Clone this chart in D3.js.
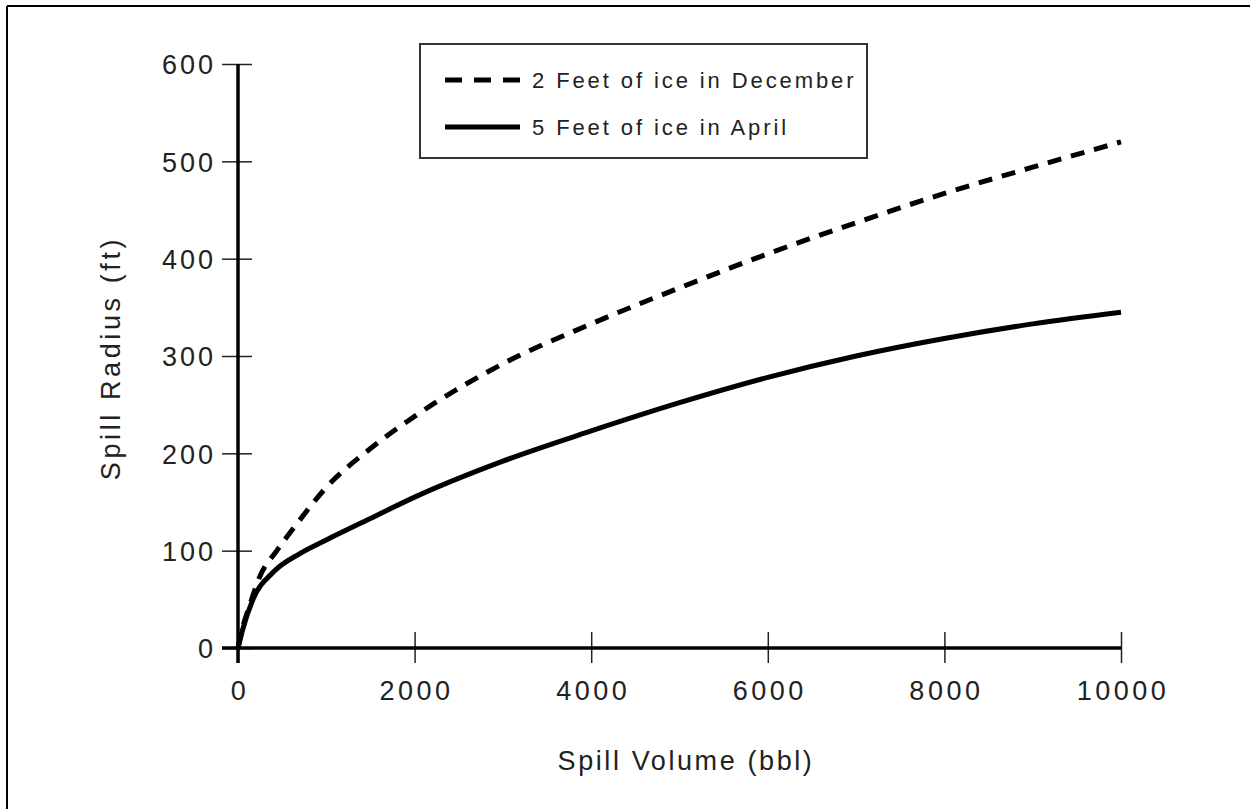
<!DOCTYPE html>
<html>
<head>
<meta charset="utf-8">
<script src="https://cdn.jsdelivr.net/npm/d3@7"></script>
<style>
  html, body { margin: 0; padding: 0; background: #fff; }
  svg { display: block; }
  text { font-family: "Liberation Sans", Arial, Helvetica, sans-serif; fill: #222; }
</style>
</head>
<body>
<svg id="chart" width="1250" height="809"></svg>
<script>
// ---- data ----
const decVolume = [0, 50, 136, 250, 440, 645, 1000, 1500, 2000, 3000, 4000, 5000, 6000, 7000, 8000, 9000, 10000];
const decRadius = [0, 20, 45, 74, 100, 125, 165, 205, 238, 292, 333, 370, 405, 437, 467, 494, 520];
const aprVolume = [0, 50, 170, 400, 700, 1000, 1500, 2000, 3000, 4000, 5000, 6000, 7000, 8000, 9000, 10000];
const aprRadius = [0, 18, 50, 78, 97, 111, 133, 155, 192, 223, 252, 278, 300, 318, 333, 345];
const xTicks = [0, 2000, 4000, 6000, 8000, 10000];
const yTicks = [0, 100, 200, 300, 400, 500, 600];
const legendLabels = ["2 Feet of ice in December", "5 Feet of ice in April"];
const xTitle = "Spill Volume (bbl)";
const yTitle = "Spill Radius (ft)";

const svg = d3.select("#chart");

// outer frame (top and left edges visible)
svg.append("line").attr("x1", 7).attr("y1", 6).attr("x2", 1250).attr("y2", 6)
  .attr("stroke", "#000").attr("stroke-width", 2);
svg.append("line").attr("x1", 7).attr("y1", 6).attr("x2", 7).attr("y2", 809)
  .attr("stroke", "#000").attr("stroke-width", 2);

const x = d3.scaleLinear().domain([0, 10000]).range([238, 1121]);
const y = d3.scaleLinear().domain([0, 600]).range([648, 64]);

// y axis
const yAxis = d3.axisLeft(y).tickValues(yTicks).tickSize(0).tickPadding(0).tickFormat(d3.format("d"));
const gy = svg.append("g").attr("transform", `translate(${x(0)},0)`).call(yAxis);
gy.select(".domain").remove();
gy.selectAll(".tick line").remove();
gy.selectAll(".tick").append("line")
  .attr("x1", -16).attr("x2", 14).attr("stroke", "#222").attr("stroke-width", 1.5);
gy.selectAll(".tick text").attr("x", -22).attr("dy", "0.36em")
  .style("font-size", "27px").style("letter-spacing", "3px").style("fill", "#222").attr("font-family", null);

// x axis
const xAxis = d3.axisBottom(x).tickValues(xTicks).tickSize(0).tickPadding(0).tickFormat(d3.format("d"));
const gx = svg.append("g").attr("transform", `translate(0,${y(0)})`).call(xAxis);
gx.select(".domain").remove();
gx.selectAll(".tick line").remove();
gx.selectAll(".tick").append("line")
  .attr("y1", -16).attr("y2", 15).attr("stroke", "#222").attr("stroke-width", 1.5);
gx.selectAll(".tick text").attr("x", 1.5).attr("y", 52).attr("dy", 0)
  .style("font-size", "27px").style("letter-spacing", "3.5px").style("fill", "#222").attr("font-family", null);

// axis lines (thick)
svg.append("line").attr("x1", x(0)).attr("x2", x(0)).attr("y1", y(600)).attr("y2", y(0) + 15)
  .attr("stroke", "#000").attr("stroke-width", 3.5);
svg.append("line").attr("x1", x(0) - 16).attr("x2", x(10000)).attr("y1", y(0)).attr("y2", y(0))
  .attr("stroke", "#000").attr("stroke-width", 3.5);

// axis titles
svg.append("text").attr("x", 686).attr("y", 770).attr("text-anchor", "middle")
  .style("font-size", "27px").style("letter-spacing", "2.6px").text(xTitle);
svg.append("text").attr("transform", "translate(120,358) rotate(-90)").attr("text-anchor", "middle")
  .style("font-size", "27px").style("letter-spacing", "3.6px").text(yTitle);

// series lines
const line = d3.line().x(d => x(d[0])).y(d => y(d[1])).curve(d3.curveMonotoneX);
const decData = decVolume.map((v, i) => [v, decRadius[i]]);
const aprData = aprVolume.map((v, i) => [v, aprRadius[i]]);

svg.append("path").datum(decData).attr("d", line)
  .attr("fill", "none").attr("stroke", "#000").attr("stroke-width", 5)
  .attr("stroke-dasharray", "14,10");
svg.append("path").datum(aprData).attr("d", line)
  .attr("fill", "none").attr("stroke", "#000").attr("stroke-width", 5);

// legend
const lg = svg.append("g");
lg.append("rect").attr("x", 420).attr("y", 44).attr("width", 447).attr("height", 114)
  .attr("fill", "#fff").attr("stroke", "#333").attr("stroke-width", 2);
const legendStyles = ["17,12", null];
const legendY = [80, 127];
legendLabels.forEach((lab, i) => {
  const l = lg.append("line").attr("x1", 445).attr("x2", 520).attr("y1", legendY[i]).attr("y2", legendY[i])
    .attr("stroke", "#000").attr("stroke-width", 5);
  if (legendStyles[i]) l.attr("stroke-dasharray", legendStyles[i]);
  lg.append("text").attr("x", 532).attr("y", legendY[i]).attr("dy", "0.36em")
    .style("font-size", "22px").style("letter-spacing", "2.9px").text(lab);
});
</script>
</body>
</html>
